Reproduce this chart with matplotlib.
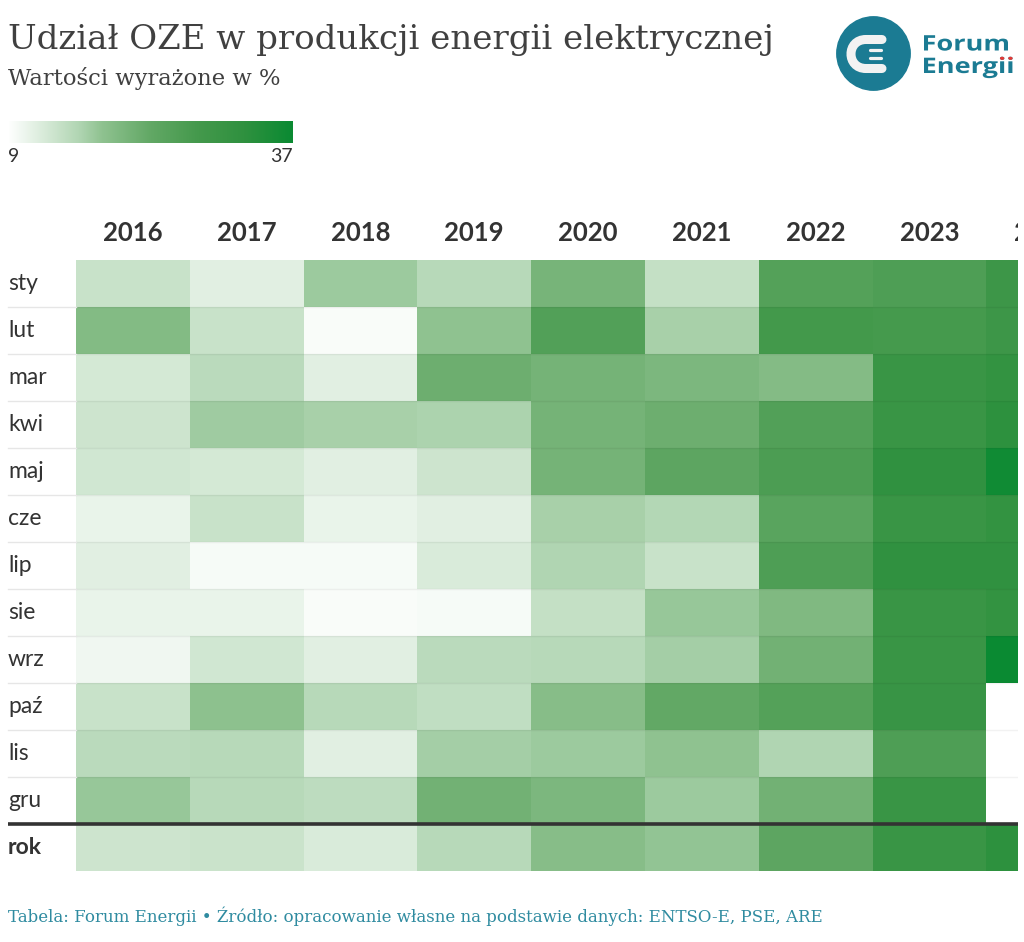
import numpy as np
import matplotlib
matplotlib.use("Agg")
import matplotlib.pyplot as plt
from matplotlib.colors import LinearSegmentedColormap
from matplotlib.patches import Circle, PathPatch, Polygon
from matplotlib.path import Path
from matplotlib.textpath import TextPath
from matplotlib.font_manager import FontProperties
from matplotlib.transforms import blended_transform_factory, Bbox, TransformedBbox

lata = ["2016", "2017", "2018", "2019", "2020", "2021", "2022", "2023", "2024"]
miesiace = ["sty", "lut", "mar", "kwi", "maj", "cze", "lip", "sie", "wrz", "paź", "lis", "gru"]

oze_2016 = [14.0, 19.6, 12.9, 13.5, 13.2, 11.0, 11.8, 11.0, 10.4, 14.0, 15.2, 17.7]
oze_2017 = [11.8, 14.0, 15.2, 17.1, 12.9, 14.0, 9.8, 11.0, 13.2, 18.5, 15.4, 15.4]
oze_2018 = [17.4, 9.6, 11.8, 16.6, 11.8, 11.0, 9.8, 9.6, 11.8, 15.4, 11.8, 14.9]
oze_2019 = [15.4, 18.2, 21.9, 16.3, 13.5, 11.8, 12.4, 9.8, 15.2, 14.6, 16.8, 21.3]
oze_2020 = [20.8, 25.5, 21.0, 21.0, 21.0, 16.6, 16.0, 14.3, 15.4, 19.1, 17.4, 20.2]
oze_2021 = [14.3, 16.6, 20.2, 21.9, 23.8, 15.7, 14.0, 17.7, 16.8, 23.0, 18.2, 17.4]
oze_2022 = [25.2, 28.0, 19.4, 25.5, 26.4, 24.4, 26.1, 19.9, 21.3, 25.2, 16.0, 21.3]
oze_2023 = [26.1, 27.5, 30.0, 30.0, 32.0, 30.0, 32.0, 30.0, 30.0, 30.3, 26.1, 30.0]
oze_2024 = [29.2, 29.2, 31.4, 32.5, 36.2, 31.4, 32.0, 31.4, 37.0, np.nan, np.nan, np.nan]
oze_rok = [13.5, 13.8, 12.4, 15.4, 19.1, 18.0, 23.8, 30.0, 32.5]

vmin, vmax = 9, 37

kolumny = [oze_2016, oze_2017, oze_2018, oze_2019, oze_2020, oze_2021, oze_2022, oze_2023, oze_2024]
tabela = np.vstack([np.array(kolumny).T, np.array(oze_rok)[None, :]])
tabela = np.ma.masked_invalid(tabela)

zielen = LinearSegmentedColormap.from_list("zielen", [
    (0.0, "#ffffff"), (0.1, "#e0efe1"), (0.25, "#b0d5b2"), (0.33, "#8fc290"),
    (0.5, "#62a865"), (0.67, "#44994c"), (0.83, "#2f913f"), (1.0, "#0a8a32")])

W, H = 1024, 942
fig = plt.figure(figsize=(W / 100, H / 100), dpi=100)
fig.patch.set_facecolor("white")

def fx(px):
    return px / W

def fy(py):
    return 1 - py / H

tekst = "#333333"
teal = "#1b7b93"

# tytul
fig.text(fx(8), fy(40), "Udział OZE w produkcji energii elektrycznej", fontsize=24.5,
         family="DejaVu Serif", color="#404040", va="center", ha="left")
fig.text(fx(8), fy(79), "Wartości wyrażone w %", fontsize=16.3,
         family="DejaVu Serif", color="#404040", va="center", ha="left")

# legenda
ax_leg = fig.add_axes([fx(8), fy(143), fx(293) - fx(8), (143 - 121) / H])
ax_leg.imshow(np.linspace(0, 1, 256)[None, :], aspect="auto", cmap=zielen)
ax_leg.set_axis_off()
fig.text(fx(8), fy(157), str(vmin), fontsize=14, family="Lato", color=tekst, va="center", ha="left")
fig.text(fx(293), fy(157), str(vmax), fontsize=14, family="Lato", color=tekst, va="center", ha="right")

# logo
ax_logo = fig.add_axes([0, 0, 1, 1], facecolor="none")
ax_logo.set_xlim(0, W)
ax_logo.set_ylim(H, 0)
ax_logo.set_axis_off()
ax_logo.add_patch(Circle((873.5, 53.5), 36.7, color=teal))
c_kod = [Path.MOVETO, Path.LINETO, Path.CURVE4, Path.CURVE4, Path.CURVE4, Path.LINETO]
c_pkt = [(882, 39.5), (866, 39.5), (846, 39.5), (846, 68.5), (866, 68.5), (882, 68.5)]
ax_logo.add_patch(PathPatch(Path(c_pkt, c_kod), fill=False, edgecolor="#f2f2f2", lw=6.5,
                            capstyle="round"))
ax_logo.plot([870, 881], [49.5, 49.5], color="#f2f2f2", lw=2.3, solid_capstyle="round")
ax_logo.plot([870, 881], [57.5, 57.5], color="#f2f2f2", lw=2.3, solid_capstyle="round")

fp = FontProperties(family="Open Sans", weight="bold")
tp_f = TextPath((0, 0), "Forum", size=20, prop=fp)
ext = tp_f.get_extents()
sx = 84 / ext.width
sy = 15.5 / ext.height

def napis(tp, x0, baza, kolor):
    v = tp.vertices.copy()
    v[:, 0] = x0 + sx * (v[:, 0] - ext.x0)
    v[:, 1] = baza - sy * v[:, 1]
    ax_logo.add_patch(PathPatch(Path(v, tp.codes), color=kolor, lw=0))

napis(tp_f, 924, 50.5, teal)
tp_e = TextPath((0, 0), "Energii", size=20, prop=fp)
napis(tp_e, 924, 73, teal)
for poly in tp_e.to_polygons():
    if poly[:, 1].min() > 0.5 * 20:
        p = poly.copy()
        p[:, 0] = 924 + sx * (p[:, 0] - ext.x0)
        p[:, 1] = 73 - sy * p[:, 1]
        ax_logo.add_patch(Polygon(p, closed=True, color="#e53935", lw=0))

# tabela
kol_w = 113.8
ax = fig.add_axes([fx(76), fy(871), fx(1018) - fx(76), (871 - 260) / H])
ax.pcolormesh(np.arange(10), np.arange(14), tabela, cmap=zielen, vmin=vmin, vmax=vmax)
ax.set_xlim(0, (1018 - 76) / kol_w)
ax.set_ylim(13, 0)
ax.set_axis_off()
for i in range(1, 12):
    ax.axhline(i, color=(0, 0, 0, 0.05), lw=1)

blend = blended_transform_factory(fig.transFigure, ax.transData)
wiersze = miesiace + ["rok"]
for i, nazwa in enumerate(wiersze):
    ax.text(fx(8), i + 0.5, nazwa, transform=blend, fontsize=16.5, family="Lato",
            weight="bold" if nazwa == "rok" else "normal", color=tekst, va="center", ha="left")
for i in range(1, 12):
    ax.plot([fx(8), fx(76)], [i, i], transform=blend, color="#e6e6e6", lw=1, clip_on=False)
ax.plot([fx(8), fx(1018)], [12, 12], transform=blend, color="#333333", lw=2.6,
        clip_on=False, solid_capstyle="butt")

clip = TransformedBbox(Bbox([[fx(76), 0], [fx(1018), 1]]), fig.transFigure)
for j, rok in enumerate(lata):
    t = ax.text(j + 0.5, -0.58, rok, fontsize=18.5, family="Lato", weight="bold",
                color=tekst, va="center", ha="center", clip_on=True)
    t.set_clip_box(clip)

# stopka
fig.text(fx(8), fy(916), "Tabela: Forum Energii • Źródło: opracowanie własne na podstawie danych: ENTSO-E, PSE, ARE",
         fontsize=12, family="DejaVu Serif", color="#2f8ba0", va="center", ha="left")

fig.savefig("out.png", dpi=100, facecolor="white")
